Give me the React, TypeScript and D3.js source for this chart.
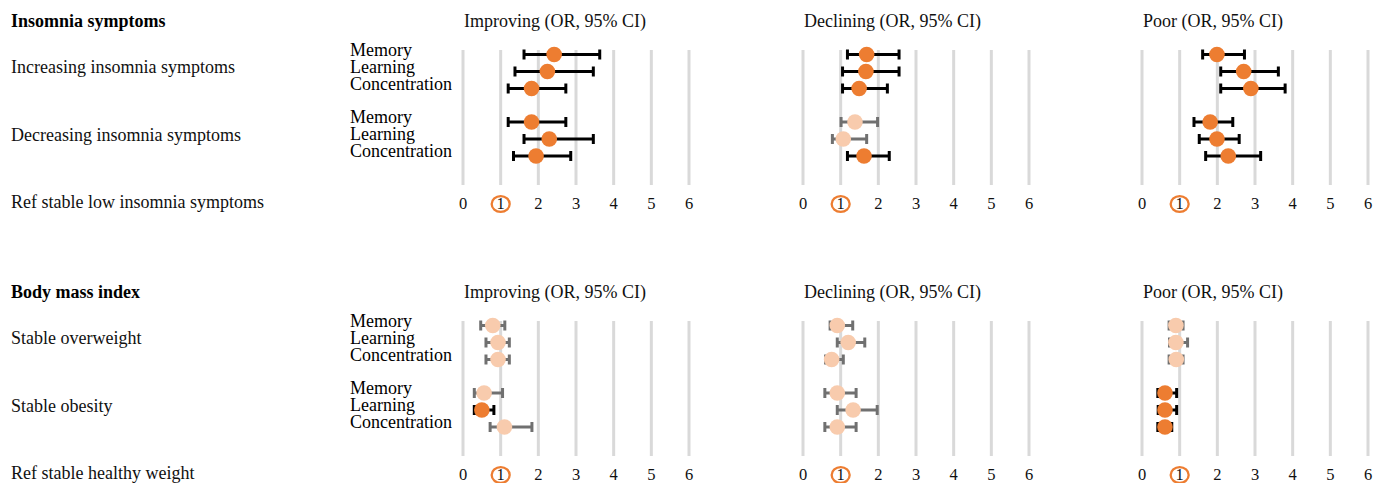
import React from "react";
import * as d3 from "d3";

const panelTitles = ["Improving (OR, 95% CI)", "Declining (OR, 95% CI)", "Poor (OR, 95% CI)"];
const outcomes = ["Memory", "Learning", "Concentration"];
const tickValues = [0, 1, 2, 3, 4, 5, 6];

const insomniaTitle = "Insomnia symptoms";
const insomniaGroups = ["Increasing insomnia symptoms", "Decreasing insomnia symptoms"];
const insomniaRef = "Ref stable low insomnia symptoms";
// [panel][group][outcome]
const insomniaOR = [
  [[2.42, 2.24, 1.82], [1.82, 2.29, 1.94]],
  [[1.69, 1.67, 1.49], [1.38, 1.07, 1.62]],
  [[1.99, 2.70, 2.89], [1.81, 1.99, 2.29]],
];
const insomniaLo = [
  [[1.62, 1.38, 1.20], [1.20, 1.62, 1.34]],
  [[1.18, 1.05, 1.05], [1.01, 0.78, 1.18]],
  [[1.61, 2.09, 2.09], [1.38, 1.52, 1.69]],
];
const insomniaHi = [
  [[3.63, 3.46, 2.73], [2.73, 3.46, 2.86]],
  [[2.55, 2.55, 2.24], [1.98, 1.69, 2.29]],
  [[2.72, 3.62, 3.80], [2.41, 2.58, 3.15]],
];
const insomniaSig = [
  [[true, true, true], [true, true, true]],
  [[true, true, true], [false, false, true]],
  [[true, true, true], [true, true, true]],
];

const bmiTitle = "Body mass index";
const bmiGroups = ["Stable overweight", "Stable obesity"];
const bmiRef = "Ref stable healthy weight";
const bmiOR = [
  [[0.79, 0.93, 0.93], [0.56, 0.50, 1.10]],
  [[0.91, 1.20, 0.76], [0.91, 1.33, 0.91]],
  [[0.90, 0.90, 0.91], [0.61, 0.61, 0.61]],
];
const bmiLo = [
  [[0.47, 0.61, 0.61], [0.30, 0.30, 0.72]],
  [[0.72, 0.91, 0.60], [0.58, 0.91, 0.58]],
  [[0.72, 0.73, 0.72], [0.42, 0.43, 0.42]],
];
const bmiHi = [
  [[1.11, 1.23, 1.23], [1.05, 0.82, 1.83]],
  [[1.32, 1.64, 1.07], [1.41, 1.97, 1.41]],
  [[1.09, 1.21, 1.09], [0.92, 0.92, 0.79]],
];
const bmiSig = [
  [[false, false, false], [false, true, false]],
  [[false, false, false], [false, false, false]],
  [[false, false, false], [true, true, true]],
];

const FONT = "'Liberation Serif', 'Times New Roman', serif";
const ORANGE = "#ED7D31";
const LIGHT = "#F8CBAD";
const GRID = "#D9D9D9";
const GRAYBAR = "#707070";

const panelX0 = [463, 803, 1142];
const panelW = 226;

type BlockProps = {
  top: number;
  title: string;
  groups: string[];
  refLabel: string;
  or: number[][][];
  lo: number[][][];
  hi: number[][][];
  sig: boolean[][][];
};

function Block({ top, title, groups, refLabel, or, lo, hi, sig }: BlockProps) {
  const rowKeys = [...groups, refLabel];
  const yRow = d3.scalePoint<string>().domain(rowKeys).range([top + 71.5, top + 206.5]);
  const ySub = d3.scalePoint<string>().domain(outcomes).range([-17, 17]);
  const gridTop = top + 50;
  const gridBottom = top + 185;
  return (
    <g>
      <text x={11} y={top + 27} fontFamily={FONT} fontSize={18} fontWeight="bold" fill="#000">
        {title}
      </text>
      {rowKeys.map((r) => (
        <text key={r} x={11} y={(yRow(r) as number) + 1.5} fontFamily={FONT} fontSize={18} fill="#111">
          {r}
        </text>
      ))}
      {groups.map((g) =>
        outcomes.map((o) => (
          <text key={g + o} x={350} y={(yRow(g) as number) + (ySub(o) as number) + 1} fontFamily={FONT} fontSize={18} fill="#000">
            {o}
          </text>
        ))
      )}
      {panelTitles.map((pt, pi) => {
        const x = d3.scaleLinear().domain([0, 6]).range([panelX0[pi], panelX0[pi] + panelW]);
        const refY = yRow(refLabel) as number;
        return (
          <g key={pt}>
            <text x={panelX0[pi] + 1} y={top + 27} fontFamily={FONT} fontSize={18} fill="#111">
              {pt}
            </text>
            {tickValues.map((t) => (
              <line key={t} x1={x(t)} x2={x(t)} y1={gridTop} y2={gridBottom} stroke={GRID} strokeWidth={3} />
            ))}
            {tickValues.map((t) => (
              <text key={"l" + t} x={x(t)} y={refY + 2.5} textAnchor="middle" fontFamily={FONT} fontSize={16.5} fill="#111">
                {t}
              </text>
            ))}
            <ellipse cx={x(1)} cy={refY - 2.5} rx={9} ry={7.8} fill="none" stroke={ORANGE} strokeWidth={2.3} />
            {groups.map((g, gi) =>
              outcomes.map((o, oi) => {
                const cy = (yRow(g) as number) + (ySub(o) as number);
                const s = sig[pi][gi][oi];
                const bc = s ? "#000" : GRAYBAR;
                const x1 = x(lo[pi][gi][oi]);
                const x2 = x(hi[pi][gi][oi]);
                return (
                  <g key={g + o}>
                    <line x1={x1} x2={x2} y1={cy} y2={cy} stroke={bc} strokeWidth={3} />
                    <line x1={x1} x2={x1} y1={cy - 5} y2={cy + 5} stroke={bc} strokeWidth={3} />
                    <line x1={x2} x2={x2} y1={cy - 5} y2={cy + 5} stroke={bc} strokeWidth={3} />
                  </g>
                );
              })
            )}
            {groups.map((g, gi) =>
              outcomes.map((o, oi) => {
                const cy = (yRow(g) as number) + (ySub(o) as number);
                const s = sig[pi][gi][oi];
                return <circle key={"c" + g + o} cx={x(or[pi][gi][oi])} cy={cy} r={7.8} fill={s ? ORANGE : LIGHT} />;
              })
            )}
          </g>
        );
      })}
    </g>
  );
}

export default function App() {
  return (
    <svg width={1375} height={483} style={{ position: "absolute", left: 0, top: 0, background: "#fff" }}>
      <Block top={0} title={insomniaTitle} groups={insomniaGroups} refLabel={insomniaRef} or={insomniaOR} lo={insomniaLo} hi={insomniaHi} sig={insomniaSig} />
      <Block top={271} title={bmiTitle} groups={bmiGroups} refLabel={bmiRef} or={bmiOR} lo={bmiLo} hi={bmiHi} sig={bmiSig} />
    </svg>
  );
}
